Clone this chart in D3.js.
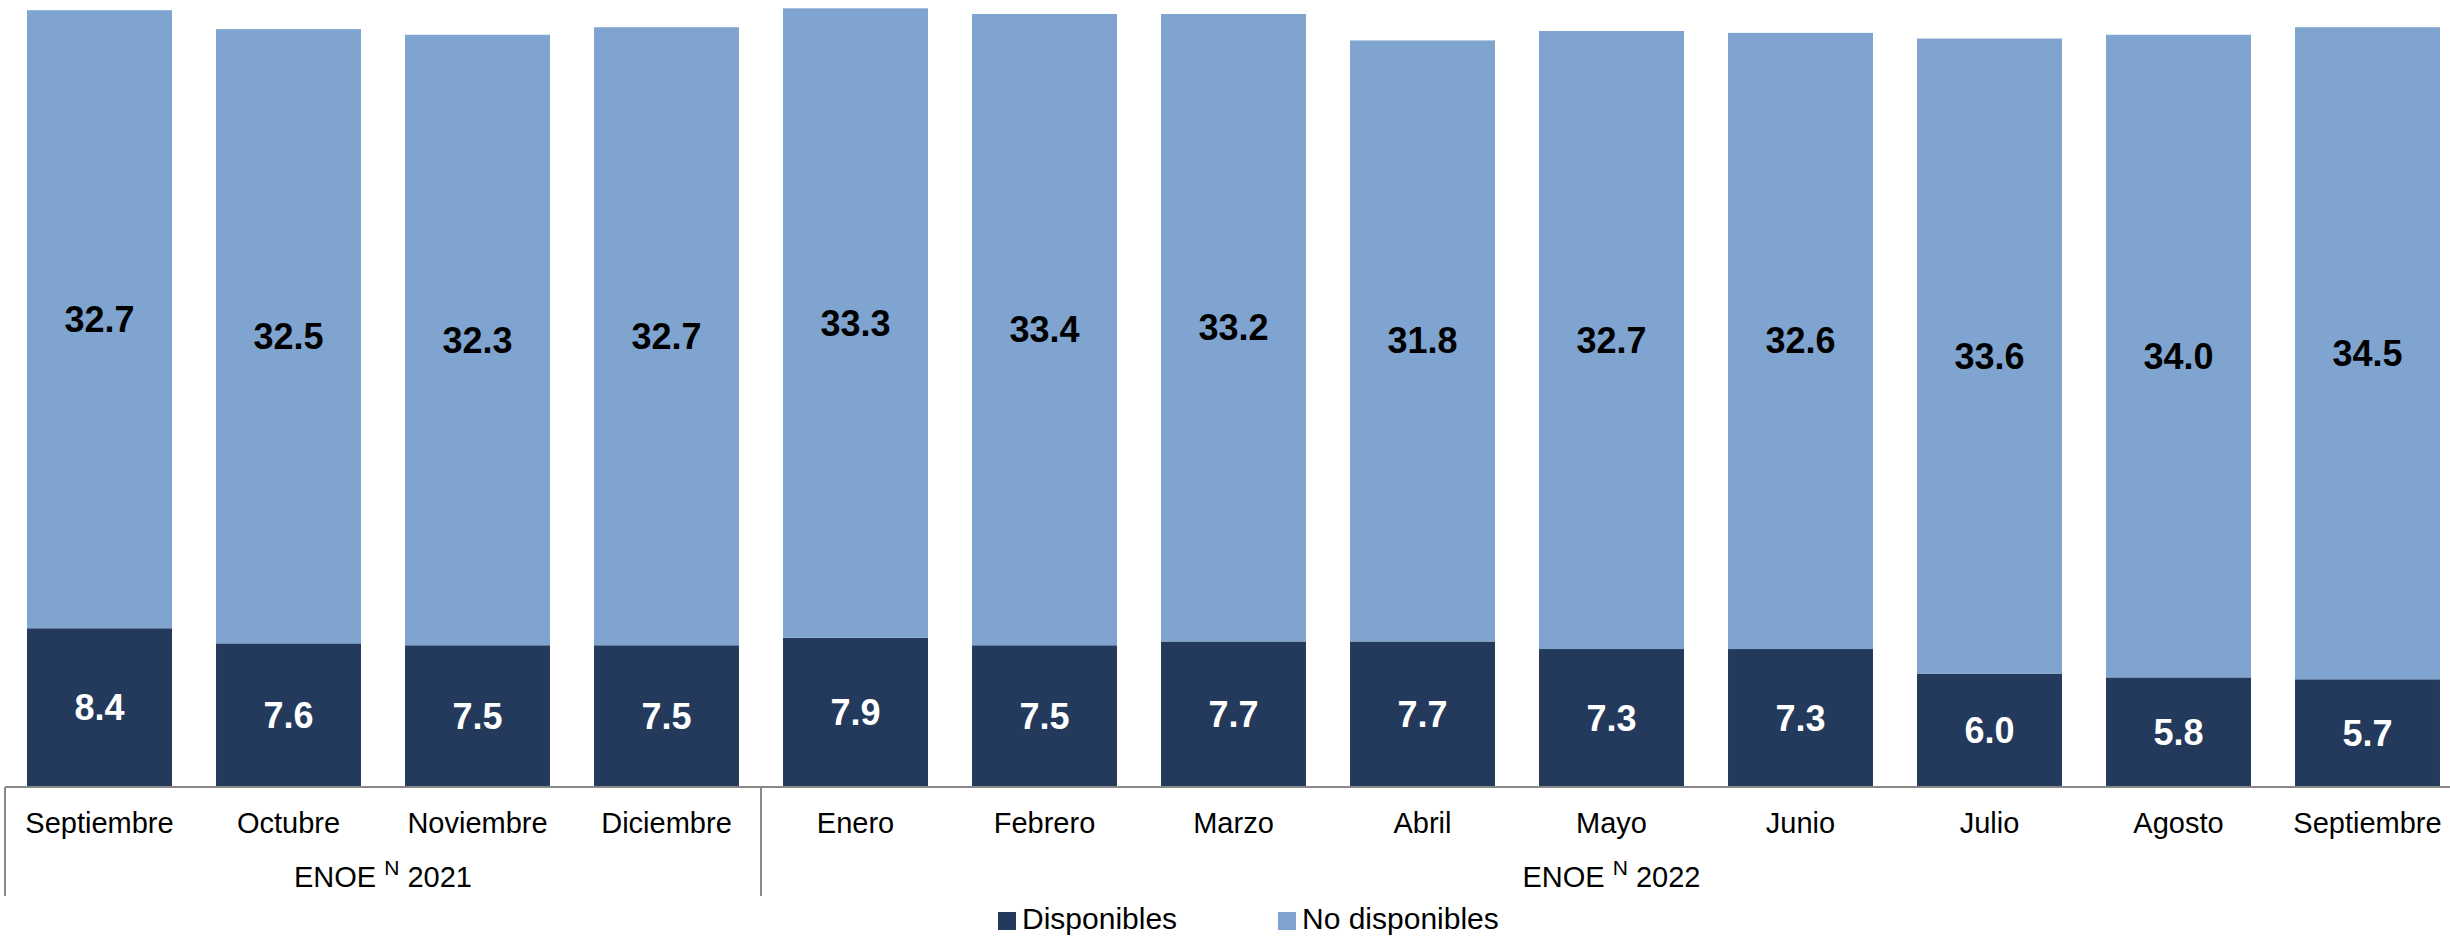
<!DOCTYPE html>
<html>
<head>
<meta charset="utf-8">
<script src="https://cdn.jsdelivr.net/npm/d3@7"></script>
<style>
  html, body { margin: 0; padding: 0; background: #ffffff; }
  svg { display: block; }
  text { font-family: "Liberation Sans", Arial, sans-serif; }
</style>
</head>
<body>
<svg id="chart" width="2450" height="936"></svg>
<script>
// ---- data ----
const months = ["Septiembre", "Octubre", "Noviembre", "Diciembre", "Enero", "Febrero", "Marzo", "Abril", "Mayo", "Junio", "Julio", "Agosto", "Septiembre"];
const disponibles = [8.4, 7.6, 7.5, 7.5, 7.9, 7.5, 7.7, 7.7, 7.3, 7.3, 6.0, 5.8, 5.7];
const noDisponibles = [32.7, 32.5, 32.3, 32.7, 33.3, 33.4, 33.2, 31.8, 32.7, 32.6, 33.6, 34.0, 34.5];
const yearLabels = ["2021", "2022"];
const yearStart = [0, 4];
const yearEnd = [3, 12];
const seriesNames = ["Disponibles", "No disponibles"];

// ---- layout ----
const colors = ["#233a5c", "#7ea4cf"];
const svg = d3.select("#chart");
const baseY = 787;
const left = 5, right = 2462;

const x = d3.scaleBand()
  .domain(d3.range(months.length))
  .range([left, right])
  .paddingInner(0.233)
  .paddingOuter(0.1165);

const y = d3.scaleLinear().domain([0, 41.64]).range([baseY, 0]);

const rows = months.map((m, i) => ({ i, m, d: disponibles[i], n: noDisponibles[i] }));

// dark segment
svg.append("g").selectAll("rect").data(rows).join("rect")
  .attr("x", r => x(r.i)).attr("width", x.bandwidth())
  .attr("y", r => y(r.d)).attr("height", r => y(0) - y(r.d))
  .attr("fill", colors[0]);

// light segment
svg.append("g").selectAll("rect").data(rows).join("rect")
  .attr("x", r => x(r.i)).attr("width", x.bandwidth())
  .attr("y", r => y(r.d + r.n)).attr("height", r => y(r.d) - y(r.d + r.n))
  .attr("fill", colors[1]);

// value labels
svg.append("g").selectAll("text").data(rows).join("text")
  .attr("x", r => x(r.i) + x.bandwidth() / 2)
  .attr("y", r => (y(0) + y(r.d)) / 2)
  .attr("text-anchor", "middle").attr("dominant-baseline", "central")
  .attr("font-size", 36).attr("font-weight", "bold").attr("fill", "#ffffff")
  .text(r => r.d.toFixed(1));

svg.append("g").selectAll("text").data(rows).join("text")
  .attr("x", r => x(r.i) + x.bandwidth() / 2)
  .attr("y", r => (y(r.d) + y(r.d + r.n)) / 2)
  .attr("text-anchor", "middle").attr("dominant-baseline", "central")
  .attr("font-size", 36).attr("font-weight", "bold").attr("fill", "#000000")
  .text(r => r.n.toFixed(1));

// axis line
const axisColor = "#898989";
svg.append("line")
  .attr("x1", left).attr("x2", right).attr("y1", baseY).attr("y2", baseY)
  .attr("stroke", axisColor).attr("stroke-width", 2);

// group separators
const sepX = [x(yearStart[0]) - x.step() * x.paddingOuter()];
yearEnd.forEach(e => sepX.push(x(e) + x.bandwidth() + x.step() * x.paddingInner() / 2));
svg.append("g").selectAll("line").data(sepX).join("line")
  .attr("x1", d => d).attr("x2", d => d)
  .attr("y1", baseY).attr("y2", 896)
  .attr("stroke", axisColor).attr("stroke-width", 2);

// month labels
svg.append("g").selectAll("text").data(rows).join("text")
  .attr("x", r => x(r.i) + x.bandwidth() / 2)
  .attr("y", 833)
  .attr("text-anchor", "middle")
  .attr("font-size", 29).attr("fill", "#000000")
  .text(r => r.m);

// year labels
yearLabels.forEach((lab, k) => {
  const cx = (sepX[k] + sepX[k + 1]) / 2;
  const t = svg.append("text")
    .attr("x", cx).attr("y", 887)
    .attr("text-anchor", "middle")
    .attr("font-size", 29).attr("fill", "#000000");
  t.append("tspan").text("ENOE ");
  t.append("tspan").attr("font-size", 21).attr("dy", -12).text("N");
  t.append("tspan").attr("dy", 12).text(" " + lab);
});

// legend
const legX = [998, 1278];
seriesNames.forEach((s, k) => {
  svg.append("rect")
    .attr("x", legX[k]).attr("y", 912).attr("width", 18).attr("height", 18)
    .attr("fill", colors[k]);
  svg.append("text")
    .attr("x", legX[k] + 24).attr("y", 929)
    .attr("font-size", 30).attr("fill", "#000000")
    .text(s);
});
</script>
</body>
</html>
